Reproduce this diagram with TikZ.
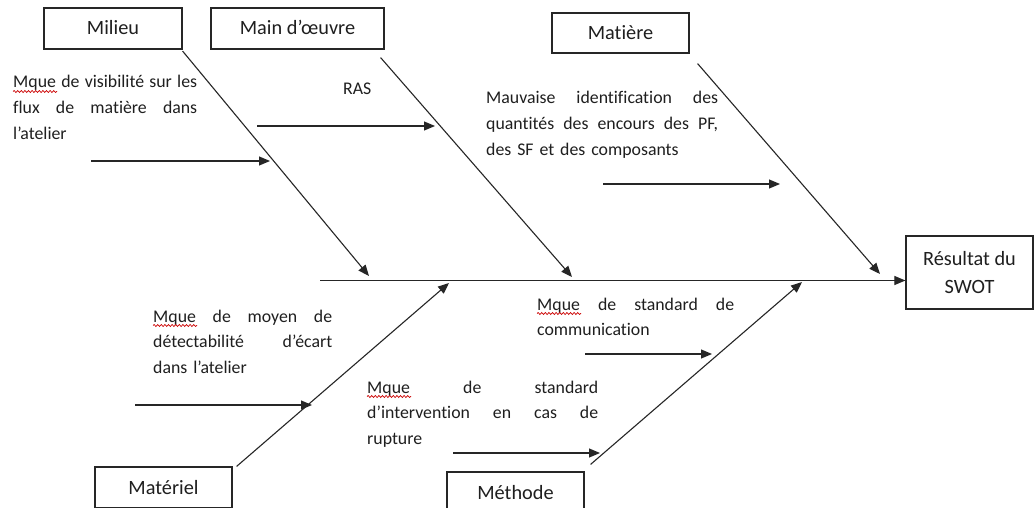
\documentclass[tikz,border=0pt]{standalone}
\usepackage{fontspec}
\setmainfont{Carlito}[Ligatures=NoCommon]
\usetikzlibrary{arrows.meta,calc,decorations.pathmorphing}

% one fully justified line of a given width (normal, stretchable interword glue)
\newcommand\jline[2]{{\spaceskip=0pt\relax\xspaceskip=0pt\relax\makebox[#1][s]{#2}}}

\begin{document}
\begin{tikzpicture}[x=1pt,y=-1pt,
  txt/.style={font=\fontsize{17.8}{25.6}\selectfont, text=black!88},
  cause/.style={txt, font=\fontsize{20.3}{25}\selectfont, draw=black!85,
    line width=1.2pt, inner sep=0pt, minimum width=137pt, minimum height=41pt,
    text height=13pt, text depth=0pt},
  effect/.style={txt, draw=black!85, line width=1.2pt, inner sep=0pt,
    minimum width=127pt, minimum height=73pt, align=center,
    font=\fontsize{20.3}{28}\selectfont},
  bone/.style={draw=black!85, line width=1.1pt, -{Triangle[length=11pt,width=9pt]}},
  note/.style={txt, anchor=base west, inner sep=0pt, align=left},
  squig/.style={draw=red!80!black, line width=0.7pt, decorate,
    decoration={snake, amplitude=1pt, segment length=3.6pt}}]

\clip (0,0) rectangle (1034,508);
\fill[white] (0,0) rectangle (1034,508);

% category boxes
\node[cause, minimum width=138pt] (milieu) at (113,28.5) {Milieu};
\node[cause, minimum width=173pt] (mainoeuvre) at (297.5,28.5) {Main d’œuvre};
\node[cause, minimum height=40pt] (matiere) at (620.5,33) {Matière};
\node[cause] (materiel) at (163.5,487.5) {Matériel};
\node[cause] (methode) at (515.5,492.5) {Méthode};

% effect box
\node[effect] (swot) at (969.5,272.5) {Résultat du\\SWOT};

% spine
\coordinate (spinetail) at (320,280.5);
\draw[bone] (spinetail) -- (spinetail -| swot.west);

% main bones
\coordinate (b1s) at ($(milieu.south east)+(0,1.5)$);
\coordinate (b1e) at (369,276);
\coordinate (b2s) at ($(mainoeuvre.south east)+(-4,8)$);
\coordinate (b2e) at (572,277);
\coordinate (b3s) at ($(matiere.south east)+(8,10)$);
\coordinate (b3e) at (880,274);
\coordinate (b4s) at ($(materiel.north east)+(4,0)$);
\coordinate (b4e) at (449,283);
\coordinate (b5s) at ($(methode.north east)+(6,-7)$);
\coordinate (b5e) at (802,282);
\draw[bone] (b1s) -- (b1e);
\draw[bone] (b2s) -- (b2e);
\draw[bone] (b3s) -- (b3e);
\draw[bone] (b4s) -- (b4e);
\draw[bone] (b5s) -- (b5e);

% sub-cause arrows
\coordinate (s1a) at (91,161);   \coordinate (s1b) at (270,161);
\coordinate (s2a) at (257,126);  \coordinate (s2b) at (435,126);
\coordinate (s3a) at (603,184);  \coordinate (s3b) at (780,184);
\coordinate (s4a) at (135,405);  \coordinate (s4b) at (312,405);
\coordinate (s5a) at (585,354);  \coordinate (s5b) at (712,354);
\coordinate (s6a) at (453,453);  \coordinate (s6b) at (600,453);
\foreach \i in {1,...,6} \draw[bone] (s\i a) -- (s\i b);

% cause descriptions (first line sits on the given baseline)
\node[note, text width=184pt] (t1) at (13,88)
  {\jline{184pt}{Mque de visibilité sur les}\\
   \jline{184pt}{flux de matière dans}\\
   l’atelier};
\node[note] (t2) at (343,95) {RAS};
\node[note, text width=232pt] (t3) at (486,104)
  {\jline{232pt}{Mauvaise identification des}\\
   \jline{232pt}{quantités des encours des PF,}\\
   des SF et des composants};
\node[note, text width=179pt] (t4) at (153,322)
  {\jline{179pt}{Mque de moyen de}\\
   \jline{179pt}{détectabilité d’écart}\\
   dans l’atelier};
\node[note, text width=231pt] (t5) at (367,393)
  {\jline{231pt}{Mque de standard}\\
   \jline{231pt}{d’intervention en cas de}\\
   rupture};
\node[note, text width=197pt] (t6) at (537,310)
  {\jline{197pt}{Mque de standard de}\\
   communication};

% spell-check marks under "Mque"
\foreach \t in {t1,t4,t5,t6}
  \draw[squig] ($(\t.base west)+(0,3.5)$) -- ++(44,0);
\end{tikzpicture}
\end{document}
